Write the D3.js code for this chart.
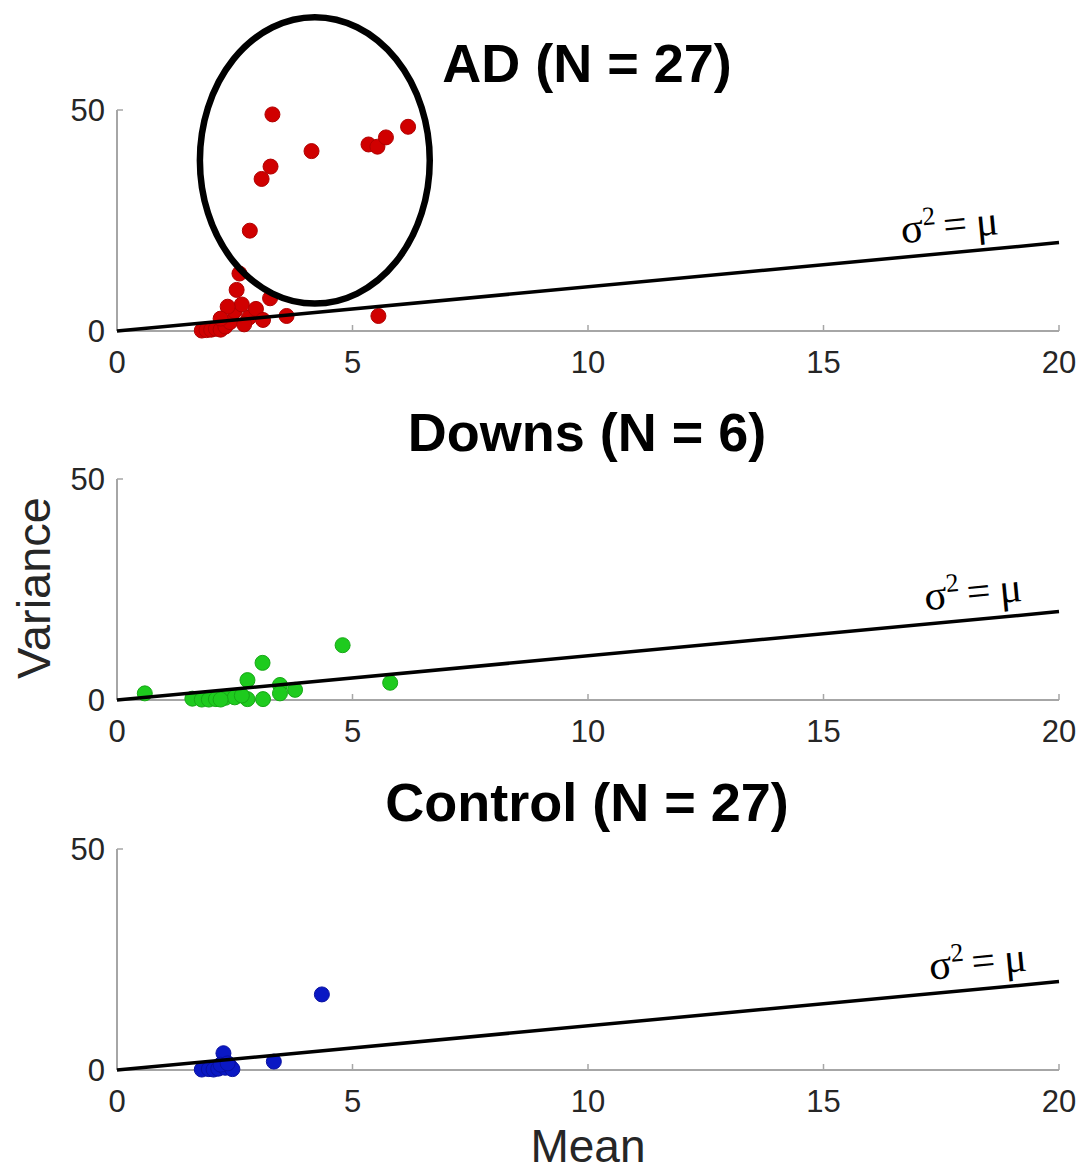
<!DOCTYPE html>
<html><head><meta charset="utf-8">
<script src="https://cdn.jsdelivr.net/npm/d3@7"></script>
<style>body{margin:0;background:#fff}</style>
</head><body>
<svg id="c" width="1085" height="1173"></svg>
<script>
const xTicks = [0, 5, 10, 15, 20];
const yTicks = [0, 50];
const titles = ["AD (N = 27)", "Downs (N = 6)", "Control (N = 27)"];
const colors = ["#d00000", "#1ecb1e", "#0a18c4"];
const strokes = ["#b00000", "#16a816", "#0810a0"];

const adMean = [3.30,4.13,5.34,5.53,5.71,6.18,3.26,3.07,2.82,3.60,5.55,2.60,2.54,3.25,1.80,1.90,2.00,2.10,2.20,2.30,2.40,2.50,2.65,2.80,2.95,3.10,2.70,2.35,2.20];
const adVar  = [49.0,40.7,42.2,41.7,43.8,46.2,37.2,34.4,22.7,3.4,3.4,13.0,9.3,7.4,0.1,0.2,0.3,0.5,0.3,1.0,2.0,4.5,6.0,3.0,5.0,2.5,1.5,5.5,2.8];
const dsMean = [0.59,3.09,2.77,4.79,5.80,3.46,3.78,3.46,1.60,1.80,1.95,2.10,2.30,2.50,2.77,3.10,2.65,2.20];
const dsVar  = [1.5,8.4,4.5,12.4,3.9,3.4,2.3,1.5,0.3,0.1,0.1,0.2,0.5,0.6,0.2,0.2,1.0,0.1];
const ctMean = [4.35,3.33,2.26,1.80,1.95,2.05,2.15,2.30,2.40,2.45,2.20,2.35];
const ctVar  = [17.1,1.9,3.8,0.1,0.2,0.1,0.3,0.5,0.8,0.2,1.2,1.5];
const identityLine = [0, 20];
// highlighted region in AD panel (data units): centre mean, centre variance, half widths
const ellipseAD = {cx: 4.2, cy: 38.6, rx: 2.44, ry: 32.4};

const series = [[adMean, adVar], [dsMean, dsVar], [ctMean, ctVar]];

const svg = d3.select("#c");
const x = d3.scaleLinear().domain([0, 20]).range([117, 1059]);
const tops = [110, 479, 849];
const panelH = 221;
const labelAt = [17.7, 18.2, 18.3];

tops.forEach((top, i) => {
  const y = d3.scaleLinear().domain([0, 50]).range([top + panelH, top]);
  const g = svg.append("g");
  const base = top + panelH;

  g.append("line").attr("x1", x(0)).attr("x2", x(20)).attr("y1", base).attr("y2", base)
    .attr("stroke", "#a6a6a6").attr("stroke-width", 2);
  g.append("line").attr("x1", x(0)).attr("x2", x(0)).attr("y1", y(0)).attr("y2", y(50))
    .attr("stroke", "#a6a6a6").attr("stroke-width", 2);
  xTicks.forEach(t => {
    g.append("line").attr("x1", x(t)).attr("x2", x(t)).attr("y1", base).attr("y2", base - 6)
      .attr("stroke", "#a6a6a6").attr("stroke-width", 1.5);
    g.append("text").attr("x", x(t)).attr("y", base + 42).attr("text-anchor", "middle")
      .attr("font-family", "Liberation Sans, Arial, sans-serif").attr("font-size", 31)
      .attr("fill", "#262626").text(t);
  });
  yTicks.forEach(t => {
    g.append("line").attr("x1", x(0)).attr("x2", x(0) + 6).attr("y1", y(t)).attr("y2", y(t))
      .attr("stroke", "#a6a6a6").attr("stroke-width", 1.5);
    g.append("text").attr("x", x(0) - 12).attr("y", y(t) + 11).attr("text-anchor", "end")
      .attr("font-family", "Liberation Sans, Arial, sans-serif").attr("font-size", 31)
      .attr("fill", "#262626").text(t);
  });

  const [mx, vy] = series[i];
  g.selectAll("circle.pt").data(mx.map((m, k) => [m, vy[k]])).enter().append("circle")
    .attr("class", "pt").attr("cx", d => x(d[0])).attr("cy", d => y(d[1])).attr("r", 7.5)
    .attr("fill", colors[i]).attr("stroke", strokes[i]).attr("stroke-width", 1);

  g.append("line").attr("x1", x(identityLine[0])).attr("y1", y(identityLine[0]))
    .attr("x2", x(identityLine[1])).attr("y2", y(identityLine[1]))
    .attr("stroke", "#000").attr("stroke-width", 3.5);

  const ang = -Math.atan((y(0) - y(20)) / (x(20) - x(0))) * 180 / Math.PI;
  const lx = labelAt[i];
  const t = g.append("text")
    .attr("transform", `translate(${x(lx)},${y(lx) - 14}) rotate(${ang})`)
    .attr("font-family", "Liberation Serif, Times New Roman, serif").attr("font-size", 42)
    .attr("fill", "#000").attr("text-anchor", "middle");
  t.append("tspan").text("σ");
  t.append("tspan").attr("font-size", 26).attr("dy", -16).text("2");
  t.append("tspan").attr("dy", 16).attr("dx", 7).text("=");
  t.append("tspan").attr("dx", 9).text("μ");

  g.append("text").attr("x", (x(0) + x(20)) / 2 - 1).attr("y", top - 28).attr("text-anchor", "middle")
    .attr("font-family", "Liberation Sans, Arial, sans-serif").attr("font-weight", "bold")
    .attr("font-size", 54).attr("fill", "#000").text(titles[i]);

  if (i === 0) {
    g.append("ellipse").attr("cx", x(ellipseAD.cx)).attr("cy", y(ellipseAD.cy))
      .attr("rx", x(ellipseAD.rx) - x(0)).attr("ry", y(0) - y(ellipseAD.ry))
      .attr("fill", "none").attr("stroke", "#000").attr("stroke-width", 6.5);
  }
});

svg.append("text").attr("transform", "translate(50,588) rotate(-90)").attr("text-anchor", "middle")
  .attr("font-family", "Liberation Sans, Arial, sans-serif").attr("font-size", 47).attr("fill", "#262626")
  .text("Variance");
svg.append("text").attr("x", 588).attr("y", 1162).attr("text-anchor", "middle")
  .attr("font-family", "Liberation Sans, Arial, sans-serif").attr("font-size", 46).attr("fill", "#262626")
  .text("Mean");
</script>
</body></html>
